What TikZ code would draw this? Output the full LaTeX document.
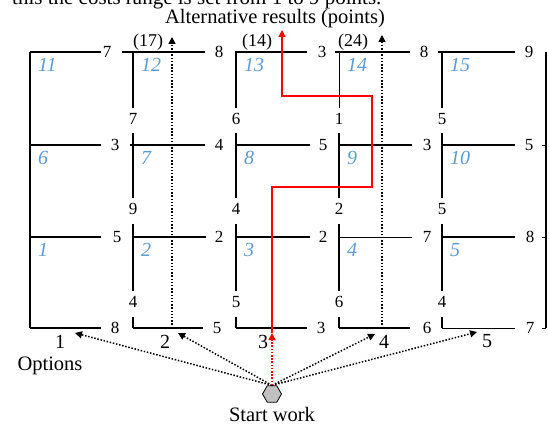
\documentclass[tikz,border=0pt]{standalone}
\usepackage{fontspec}
\setmainfont{Liberation Serif}
\usetikzlibrary{arrows.meta,shapes.geometric}
\definecolor{cellblue}{RGB}{91,155,213}
\definecolor{hexgray}{RGB}{192,192,192}
\begin{document}
\begin{tikzpicture}[x=1pt,y=-1pt,
  grid/.style={line width=1.8pt},
  thingrid/.style={line width=0.8pt},
  cost/.style={font=\fontsize{17}{17}\selectfont, inner sep=0pt},
  cellno/.style={font=\fontsize{20}{20}\selectfont\itshape, text=cellblue, inner sep=0pt, anchor=west},
  optno/.style={font=\fontsize{20}{20}\selectfont, inner sep=0pt},
  res/.style={font=\fontsize{18}{18}\selectfont, inner sep=0pt},
  bigtext/.style={font=\fontsize{20.5}{20.5}\selectfont, inner sep=0pt},
  dots/.style={line width=1.5pt, dash pattern=on 1.5pt off 1.7pt},
  tipend/.style={-{Triangle[length=7pt,width=7pt]}},
]
\useasboundingbox (0,0) rectangle (549,425);
\begin{scope}
\clip (0,0) rectangle (549,425);
\node[font=\fontsize{21}{21}\selectfont, inner sep=0pt, anchor=base west] (cut) at (12,5) {this the costs range is set from 1 to 9 points.};
\end{scope}
\node[bigtext] (title) at (275,19) {Alternative results (points)};

% outer verticals
\coordinate (l1) at (30,52); \coordinate (l2) at (30,328);
\draw[grid] (l1) -- (l2);
\coordinate (r1) at (546,52); \coordinate (r2) at (546,328);
\draw[grid] (r1) -- (r2);
\foreach \y in {145,237,328}{
  \coordinate (rs\y a) at (542,\y); \coordinate (rs\y b) at (546,\y);
  \draw[line width=0.8pt] (rs\y a) -- (rs\y b);
}

% horizontal segments with costs
\foreach \y/\lst in {52/{30/101/107/7/grid, 122/205/219/8/grid, 235/307/322/3/grid, 335/410/424/8/grid, 438/515/529/9/grid},
                     145/{30/101/115/3/grid, 130/205/219/4/grid, 236/310/323/5/grid, 339/412/427/3/grid, 442/515/529/5/grid},
                     237/{30/101/117/5/grid, 133/206/219/2/grid, 236/310/323/2/grid, 339/412/427/7/thingrid, 442/515/530/8/grid},
                     328/{30/101/115/8/grid, 133/203/217/5/grid, 236/307/321/3/grid, 339/410/427/6/grid, 442/515/530/7/thingrid}}{
  \foreach \a/\b/\c/\t/\s in \lst {
    \coordinate (h\y a\a) at (\a,\y);
    \coordinate (h\y b\a) at (\b,\y);
    \draw[\s] (h\y a\a) -- (h\y b\a);
    \node[cost] (hc\y x\a) at (\c,\y) {\t};
  }
}

% inner vertical segments with costs
\foreach \x/\p/\q/\r/\w in {133/7/9/4/grid, 236/6/4/5/grid, 339/1/2/6/thingrid, 442/5/5/4/grid}{
  \coordinate (v\x a) at (\x,52);  \coordinate (v\x b) at (\x,108);
  \coordinate (v\x c) at (\x,133); \coordinate (v\x d) at (\x,198);
  \coordinate (v\x e) at (\x,224); \coordinate (v\x f) at (\x,291);
  \coordinate (v\x g) at (\x,317); \coordinate (v\x h) at (\x,328);
  \draw[\w] (v\x a) -- (v\x b);
  \draw[grid] (v\x c) -- (v\x d);
  \draw[grid] (v\x e) -- (v\x f);
  \draw[grid] (v\x g) -- (v\x h);
  \node[cost] (vc\x p) at (\x,119) {\p};
  \node[cost] (vc\x q) at (\x,209) {\q};
  \node[cost] (vc\x r) at (\x,302) {\r};
}

% cell numbers
\foreach \x/\n in {30/11, 133/12, 236/13, 339/14, 442/15}{ \node[cellno] (cell\n) at (\x+8,65) {\n}; }
\foreach \x/\n in {30/6, 133/7, 236/8, 339/9, 442/10}{ \node[cellno] (cell\n) at (\x+8,158) {\n}; }
\foreach \x/\n in {30/1, 133/2, 236/3, 339/4, 442/5}{ \node[cellno] (cell\n) at (\x+8,250) {\n}; }

% alternative results
\node[res] (r17) at (148,42) {(17)};
\node[res] (r14) at (257,42) {(14)};
\node[res] (r24) at (353,42) {(24)};

% dotted verticals for options 2 and 4
\coordinate (d2b) at (172,328); \coordinate (d2t) at (172,37);
\draw[dots, tipend] (d2b) -- (d2t);
\coordinate (d4b) at (382,328); \coordinate (d4t) at (382,35);
\draw[dots, tipend] (d4b) -- (d4t);

% red path for option 3
\coordinate (p0) at (272,333);
\coordinate (p1) at (272,187);
\coordinate (p2) at (372,187);
\coordinate (p3) at (372,96);
\coordinate (p4) at (282,96);
\coordinate (p5) at (282,30);
\draw[red, line width=1.4pt, tipend] (p0) -- (p1) -- (p2) -- (p3) -- (p4) -- (p5);

% start
\node[regular polygon, regular polygon sides=6, draw, fill=hexgray, line width=0.8pt, minimum size=19pt, inner sep=0pt] (start) at (272,394) {};
\node[bigtext] (startlbl) at (272,414) {Start work};

% options
\node[optno] (opt1) at (60,342) {1};
\node[optno] (opt2) at (165,342) {2};
\node[optno] (opt3) at (263,342) {3};
\node[optno] (opt4) at (384,342) {4};
\node[optno] (opt5) at (487,341) {5};
\node[bigtext] (options) at (50,366) {Options};

\coordinate (t1) at (75,333);
\coordinate (t2) at (178,333);
\coordinate (t4) at (375,334);
\coordinate (t5) at (477,332);
\draw[dots, tipend] (start.north) -- (t1);
\draw[dots, tipend] (start.north) -- (t2);
\draw[dots, tipend] (start.north) -- (t4);
\draw[dots, tipend] (start.north) -- (t5);
\draw[dots, red, tipend] (start.north) -- (p0);
\end{tikzpicture}
\end{document}
